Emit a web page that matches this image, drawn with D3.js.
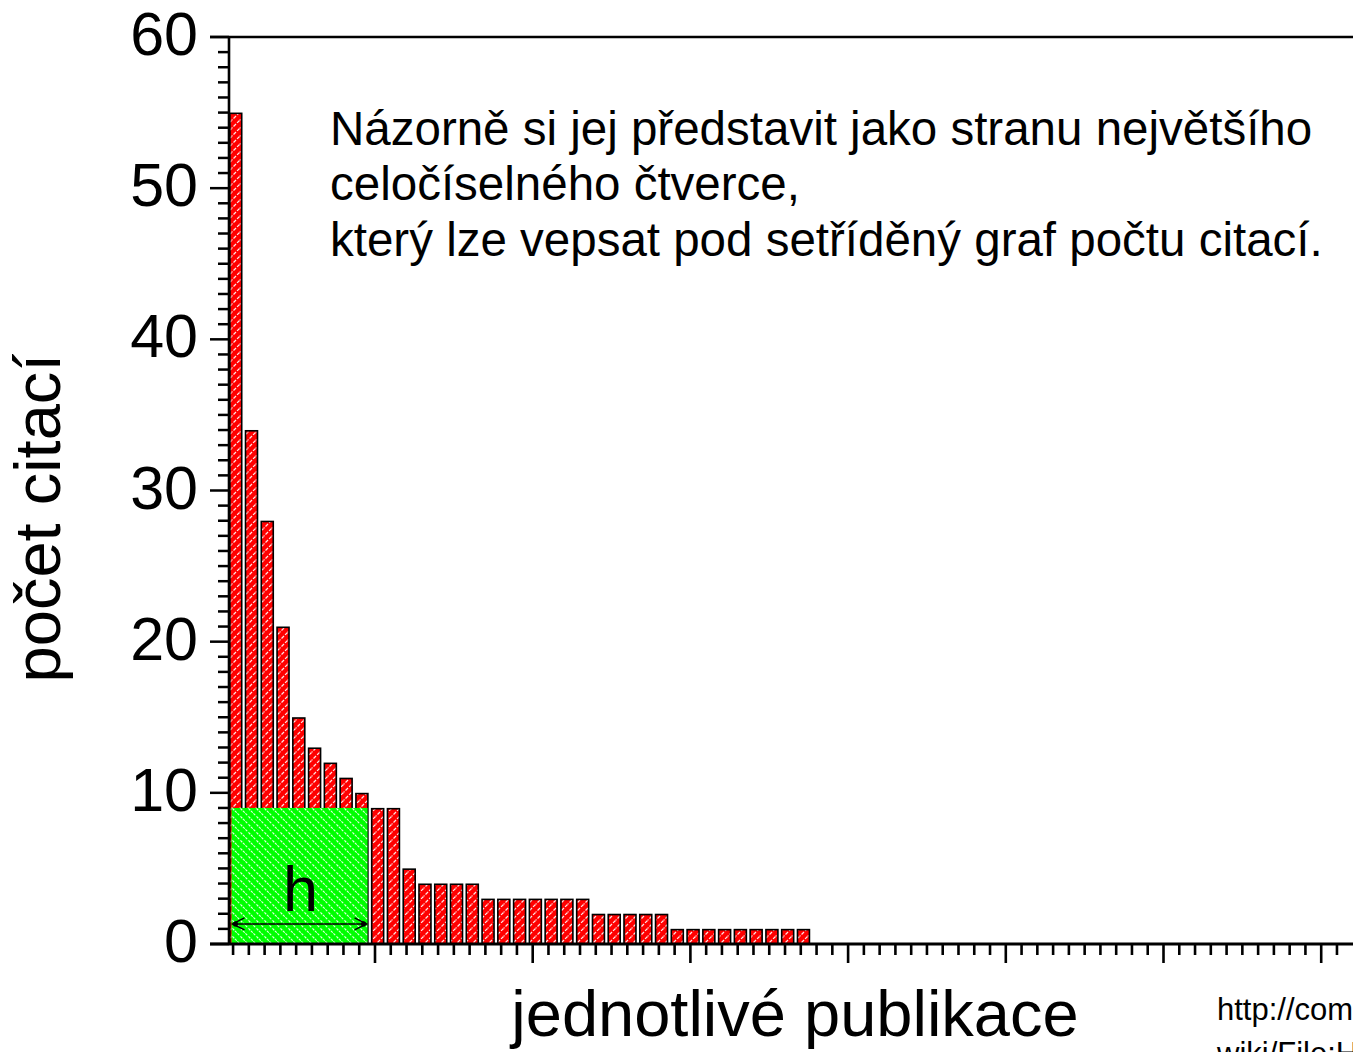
<!DOCTYPE html>
<html>
<head>
<meta charset="utf-8">
<script src="https://cdn.jsdelivr.net/npm/d3@7/dist/d3.min.js"></script>
<style>
  html, body { margin: 0; padding: 0; background: #fff; overflow: hidden; }
  svg { display: block; }
  text { font-family: "Liberation Sans", Arial, Helvetica, sans-serif; fill: #000; }
</style>
</head>
<body>
<svg id="chart" width="1353" height="1052"></svg>
<script>
// ---- data ----
const citations = [55, 34, 28, 21, 15, 13, 12, 11, 10, 9, 9, 5, 4, 4, 4, 4,
  3, 3, 3, 3, 3, 3, 3, 2, 2, 2, 2, 2, 1, 1, 1, 1, 1, 1, 1, 1, 1];
const hIndex = 9;
const yTickValues = [0, 10, 20, 30, 40, 50, 60];
const yTickLabels = ["0", "10", "20", "30", "40", "50", "60"];
const xMajorTicks = [10, 20, 30, 40, 50, 60, 70];
const yTitle = "počet citací";
const xTitle = "jednotlivé publikace";
const annotationLines = [
  "Názorně si jej představit jako stranu největšího",
  "celočíselného čtverce,",
  "který lze vepsat pod setříděný graf počtu citací."
];
const sourceLines = ["http://commons.wikimedia.org/", "wiki/File:H-index-en.svg"];
const hLabel = "h";

// ---- layout ----
const svg = d3.select("#chart");
const W = 1353, H = 1052;
const y = d3.scaleLinear().domain([0, 60]).range([944, 37]);
const x = d3.scaleLinear().domain([0, 72]).range([217.3, 217.3 + 72 * 15.77]);
const barOffset = 0.742;   // bars sit slightly right of the integer tick grid
const axisX = 229;

const defs = svg.append("defs");
const redPat = defs.append("pattern").attr("id", "redHatch")
  .attr("patternUnits", "userSpaceOnUse").attr("width", 8).attr("height", 8);
redPat.append("rect").attr("width", 8).attr("height", 8).attr("fill", "#ff0000");
redPat.append("path").attr("d", "M-2,10 L10,-2 M-2,2 L2,-2 M6,10 L10,6")
  .attr("stroke", "#fff").attr("stroke-width", 1.2).attr("stroke-dasharray", "3.5 1.5")
  .attr("opacity", 0.9);

const greenPat = defs.append("pattern").attr("id", "greenHatch")
  .attr("patternUnits", "userSpaceOnUse").attr("width", 8).attr("height", 8);
greenPat.append("rect").attr("width", 8).attr("height", 8).attr("fill", "#00ff00");
greenPat.append("path").attr("d", "M-2,-2 L10,10 M-2,6 L2,10 M6,-2 L10,2")
  .attr("stroke", "#fff").attr("stroke-width", 1.1).attr("stroke-dasharray", "2.5 1")
  .attr("opacity", 0.9);

// ---- bars ----
const pitch = x(1) - x(0);
svg.append("g").selectAll("rect").data(citations).enter().append("rect")
  .attr("x", (d, i) => x(i + barOffset) + 0.75)
  .attr("y", d => y(d) + 0.75)
  .attr("width", pitch - 3.8)
  .attr("height", d => y(0) - y(d) - 0.75)
  .attr("fill", "url(#redHatch)")
  .attr("stroke", "#000").attr("stroke-width", 1.6);

// ---- h square ----
const side = y(0) - y(hIndex);
const sqX = x(barOffset) + 2.5;
svg.append("rect")
  .attr("x", sqX).attr("y", y(hIndex))
  .attr("width", side).attr("height", side)
  .attr("fill", "url(#greenHatch)");

svg.append("text").attr("x", sqX + side / 2 + 1).attr("y", 911)
  .attr("text-anchor", "middle").attr("font-size", 63).text(hLabel);

// double arrow
const ay = y(1.33);
const ax0 = sqX + 1, ax1 = sqX + side - 1;
const arrow = svg.append("g").attr("stroke", "#000").attr("fill", "none").attr("stroke-width", 1.5);
arrow.append("line").attr("x1", ax0).attr("x2", ax1).attr("y1", ay).attr("y2", ay);
arrow.append("path").attr("d", `M${ax0 + 12},${ay - 6} L${ax0},${ay} L${ax0 + 12},${ay + 6}`);
arrow.append("path").attr("d", `M${ax1 - 12},${ay - 6} L${ax1},${ay} L${ax1 - 12},${ay + 6}`);
arrow.append("circle").attr("cx", ax0 + 3).attr("cy", ay).attr("r", 1.8).attr("fill", "#000");
arrow.append("circle").attr("cx", ax1 - 3).attr("cy", ay).attr("r", 1.8).attr("fill", "#000");

// ---- axes ----
const ax = svg.append("g").attr("stroke", "#000");
ax.append("line").attr("x1", 210).attr("x2", W).attr("y1", y(60)).attr("y2", y(60)).attr("stroke-width", 2.4);
ax.append("line").attr("x1", axisX).attr("x2", axisX).attr("y1", y(60)).attr("y2", y(0) + 1).attr("stroke-width", 2.6);
ax.append("line").attr("x1", 210).attr("x2", W).attr("y1", y(0)).attr("y2", y(0)).attr("stroke-width", 2.8);

// y ticks
const yMinor = d3.range(0, 61);
ax.append("g").selectAll("line").data(yMinor).enter().append("line")
  .attr("x1", d => (d % 10 === 0 ? 210 : 218)).attr("x2", axisX)
  .attr("y1", d => y(d)).attr("y2", d => y(d)).attr("stroke-width", 2.5);

// x ticks
const xMinor = d3.range(1, 72);
ax.append("g").selectAll("line").data(xMinor).enter().append("line")
  .attr("x1", d => x(d)).attr("x2", d => x(d))
  .attr("y1", y(0)).attr("y2", d => (xMajorTicks.includes(d) ? 963 : 955))
  .attr("stroke-width", 2.6);

// y tick labels
svg.append("g").selectAll("text").data(yTickValues).enter().append("text")
  .attr("x", 198).attr("y", d => y(d) + 18)
  .attr("text-anchor", "end").attr("font-size", 61)
  .text((d, i) => yTickLabels[i]);

// titles
svg.append("text").attr("transform", "translate(60,518) rotate(-90)")
  .attr("text-anchor", "middle").attr("font-size", 65).text(yTitle);

svg.append("text").attr("x", 795).attr("y", 1036)
  .attr("text-anchor", "middle").attr("font-size", 65).text(xTitle);

// annotation
const annBase = [145, 200, 256];
svg.append("g").selectAll("text").data(annotationLines).enter().append("text")
  .attr("x", 330).attr("y", (d, i) => annBase[i])
  .attr("font-size", 47.5).text(d => d);

// source (clipped by the right/bottom edge, as in the reference)
svg.append("g").selectAll("text").data(sourceLines).enter().append("text")
  .attr("x", 1217).attr("y", (d, i) => 1020 + i * 44)
  .attr("font-size", 31).text(d => d);
</script>
</body>
</html>
